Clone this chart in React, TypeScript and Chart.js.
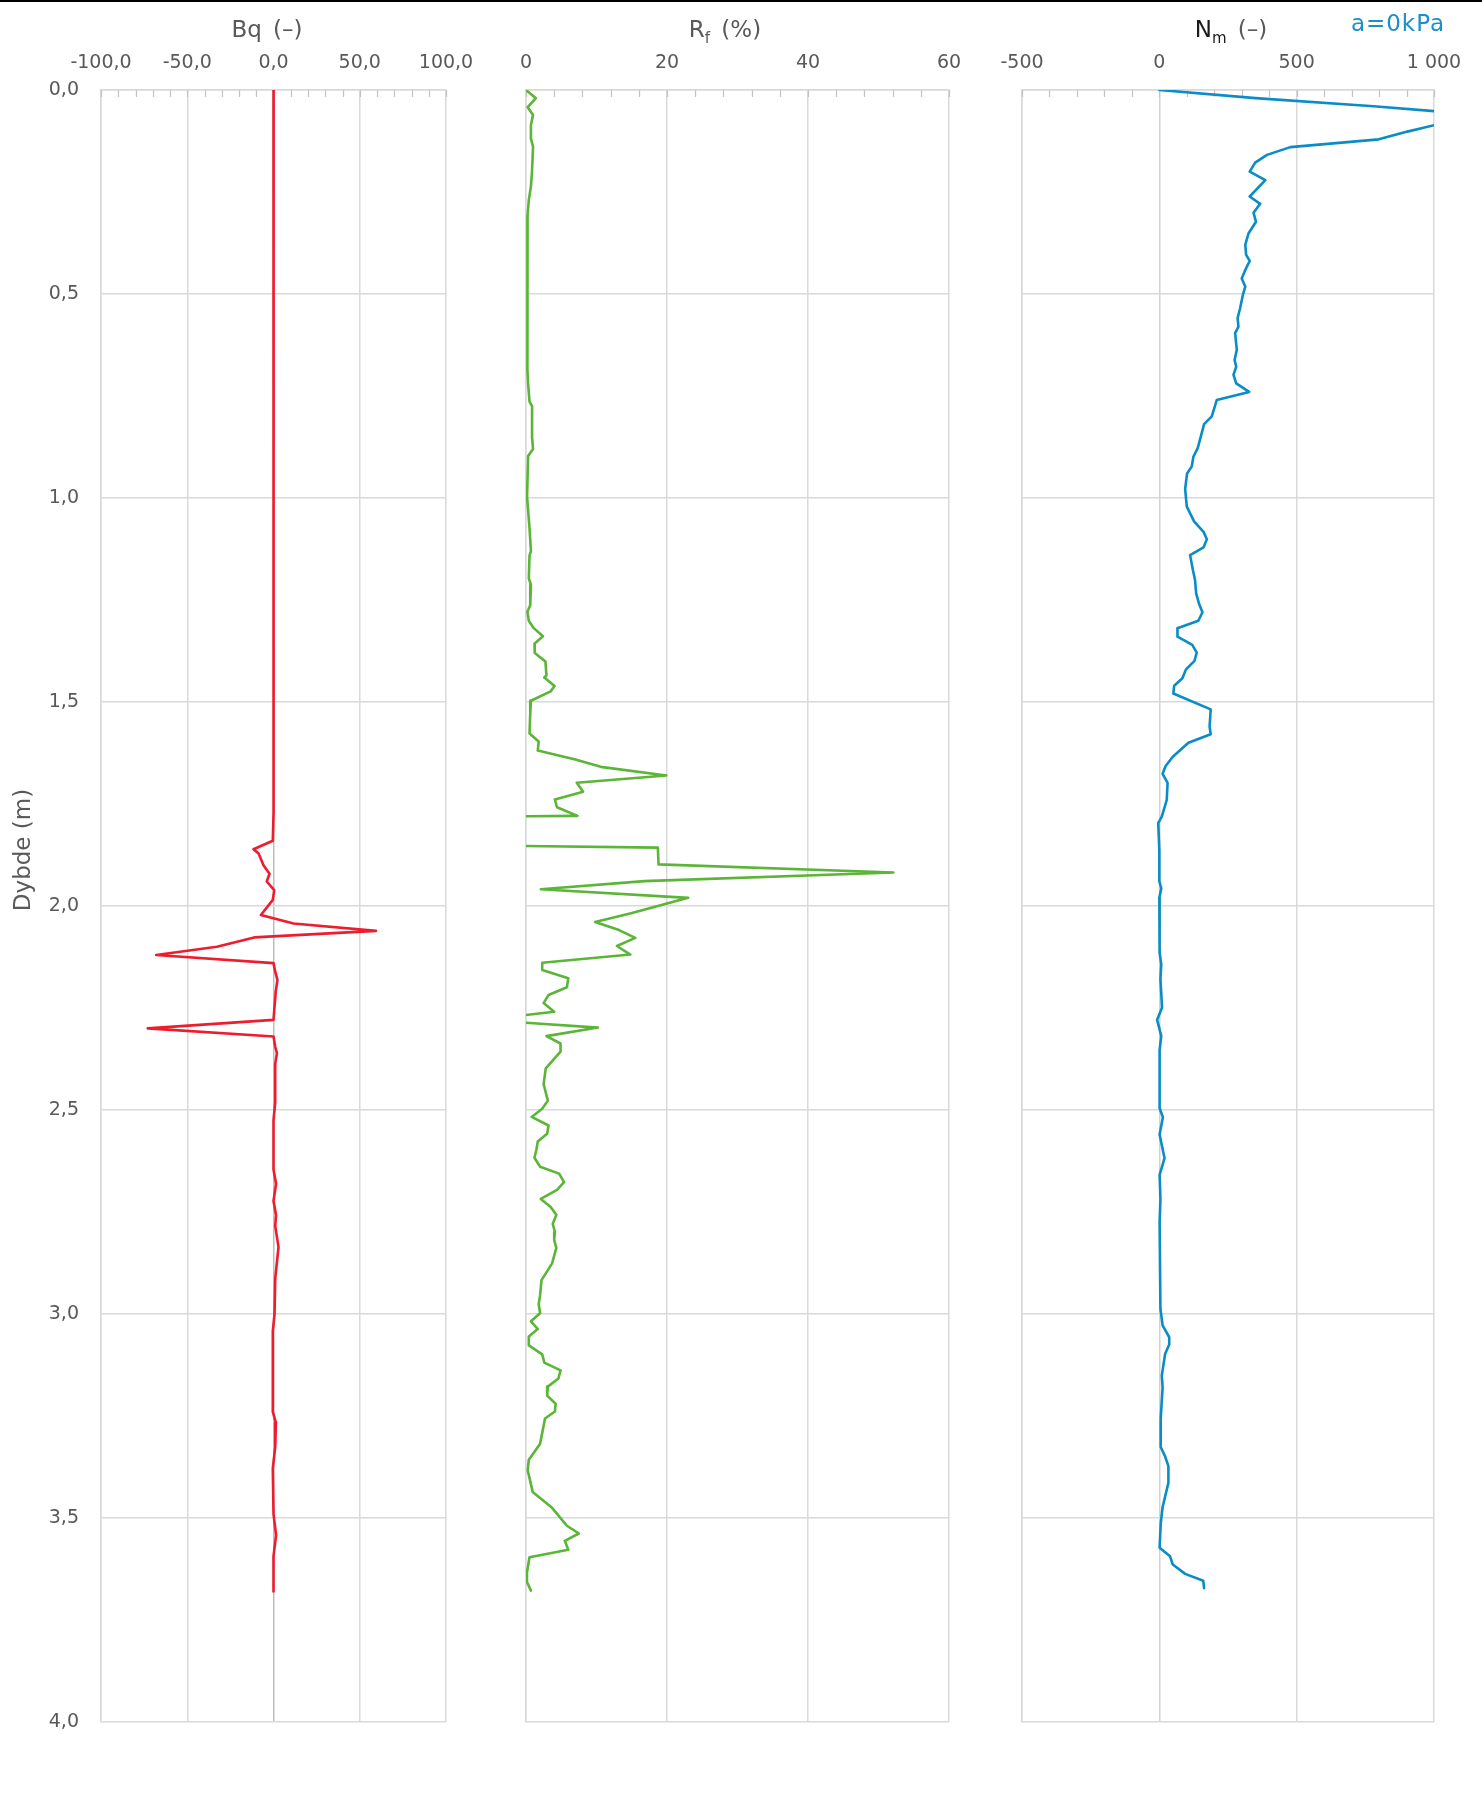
import React, { useEffect, useRef } from 'react';
import { Chart, registerables } from 'chart.js';

Chart.register(...registerables);

// ---------- data ----------
const depthTicks = [0, 0.5, 1, 1.5, 2, 2.5, 3, 3.5, 4];
const bqTicks = [-100, -50, 0, 50, 100];
const rfTicks = [0, 20, 40, 60];
const nmTicks = [-500, 0, 500, 1000];

const bqDepth = [0, 0.5, 1.0, 1.5, 1.74, 1.77, 1.84, 1.861, 1.871, 1.9, 1.921, 1.94, 1.961, 1.985, 2.022, 2.043, 2.061, 2.077, 2.1, 2.12, 2.14, 2.161, 2.181, 2.21, 2.279, 2.3, 2.32, 2.345, 2.361, 2.387, 2.482, 2.525, 2.646, 2.681, 2.723, 2.758, 2.784, 2.836, 2.913, 3.0, 3.042, 3.24, 3.266, 3.326, 3.378, 3.49, 3.542, 3.594, 3.68];
const bqValues = [0, 0, 0, 0, 0, 0.2, -0.4, -11.6, -8.7, -5.8, -2.3, -3.9, 0.4, -0.4, -7.3, 11.6, 59.4, -11.2, -32.8, -68, 0, 1, 2.3, 1.3, 0, -72.9, 0, 1, 2, 1, 1, 0, 0, 1.5, 0, 1.5, 1, 2.9, 1, 0.6, -0.4, -0.4, 1.4, 1, -0.4, 0, 1.5, 0, 0];

const rfDepth = [0, 0.02, 0.042, 0.061, 0.086, 0.119, 0.139, 0.197, 0.236, 0.27, 0.308, 0.42, 0.686, 0.72, 0.764, 0.775, 0.852, 0.88, 0.897, 0.997, 1.074, 1.13, 1.141, 1.197, 1.213, 1.263, 1.279, 1.301, 1.319, 1.339, 1.357, 1.38, 1.401, 1.435, 1.44, 1.461, 1.474, 1.497, 1.529, 1.577, 1.597, 1.619, 1.641, 1.659, 1.68, 1.698, 1.72, 1.739, 1.758, 1.779, 1.8, 1.837, 1.857, 1.898, 1.918, 1.939, 1.959, 1.98, 2.018, 2.039, 2.059, 2.078, 2.098, 2.119, 2.139, 2.157, 2.177, 2.199, 2.218, 2.238, 2.259, 2.279, 2.298, 2.319, 2.337, 2.357, 2.398, 2.437, 2.477, 2.497, 2.517, 2.538, 2.558, 2.577, 2.595, 2.617, 2.639, 2.656, 2.677, 2.696, 2.718, 2.738, 2.757, 2.779, 2.799, 2.819, 2.838, 2.876, 2.917, 2.954, 2.976, 2.998, 3.018, 3.037, 3.055, 3.077, 3.099, 3.119, 3.138, 3.158, 3.178, 3.2, 3.22, 3.239, 3.256, 3.318, 3.357, 3.383, 3.436, 3.475, 3.519, 3.538, 3.556, 3.578, 3.596, 3.633, 3.657, 3.678];
const rfValues = [0, 1.4, 0.24, 1.0, 0.7, 0.7, 1.0, 0.86, 0.7, 0.4, 0.22, 0.2, 0.2, 0.3, 0.5, 0.86, 0.86, 1.0, 0.3, 0.15, 0.5, 0.7, 0.5, 0.4, 0.7, 0.6, 0.2, 0.4, 1.1, 2.4, 1.2, 1.24, 2.76, 2.9, 2.6, 4.05, 3.5, 0.7, 0.6, 0.5, 1.8, 1.67, 7.0, 10.6, 19.9, 7.2, 8.1, 4.1, 4.4, 7.3, -175, -75, 18.7, 18.8, 52.1, 16.8, 2.1, 23.0, 14.9, 9.8, 13.2, 15.5, 12.9, 14.8, 2.3, 2.3, 6.0, 5.8, 3.2, 2.5, 4.0, -6, 10.2, 2.9, 4.9, 4.9, 2.8, 2.5, 3.1, 2.3, 0.8, 3.2, 3.0, 1.67, 1.5, 1.2, 2.0, 4.7, 5.4, 4.4, 2.1, 3.5, 4.3, 3.8, 4.1, 4.0, 4.3, 3.7, 2.2, 2.0, 1.8, 2.0, 0.7, 1.67, 0.4, 0.4, 2.3, 2.6, 4.9, 4.6, 3.1, 3.0, 4.2, 4.1, 2.7, 2.0, 0.4, 0.24, 0.95, 3.7, 5.8, 7.5, 5.5, 6.0, 0.5, 0.14, 0.14, 0.7];

const nmDepth = [0, 0.02, 0.04, 0.06, 0.08, 0.102, 0.121, 0.14, 0.159, 0.178, 0.2, 0.221, 0.261, 0.279, 0.301, 0.323, 0.351, 0.379, 0.404, 0.419, 0.441, 0.462, 0.482, 0.503, 0.535, 0.559, 0.58, 0.596, 0.637, 0.662, 0.678, 0.698, 0.719, 0.74, 0.76, 0.8, 0.819, 0.877, 0.899, 0.923, 0.94, 0.978, 1.021, 1.058, 1.083, 1.101, 1.121, 1.14, 1.176, 1.201, 1.234, 1.26, 1.28, 1.301, 1.319, 1.34, 1.36, 1.379, 1.399, 1.42, 1.442, 1.46, 1.479, 1.518, 1.56, 1.579, 1.6, 1.634, 1.657, 1.676, 1.698, 1.74, 1.781, 1.797, 1.863, 1.939, 1.957, 1.98, 2.114, 2.143, 2.179, 2.249, 2.279, 2.319, 2.354, 2.495, 2.518, 2.56, 2.618, 2.659, 2.718, 2.776, 2.987, 3.028, 3.057, 3.075, 3.098, 3.151, 3.18, 3.256, 3.326, 3.349, 3.373, 3.414, 3.473, 3.514, 3.573, 3.594, 3.614, 3.637, 3.654, 3.672];
const nmValues = [0, 350, 780, 1150, 1040, 903, 799, 477, 392, 349, 329, 386, 329, 367, 343, 352, 325, 313, 316, 329, 313, 300, 313, 304, 294, 285, 288, 276, 282, 274, 280, 270, 280, 327, 209, 191, 163, 140, 124, 118, 101, 94, 100, 127, 161, 173, 161, 112, 122, 130, 134, 145, 157, 142, 66, 66, 120, 136, 128, 97, 84, 54, 51, 187, 183, 187, 106, 49, 23, 12, 30, 27, 9, -4, 0, 0, 7, 0, 1, 7, 4, 10, -8, 7, 1, 1, 13, 1, 19, 1, 4, 1, 4, 12, 36, 36, 21, 9, 12, 5, 5, 21, 33, 33, 12, 5, 1, 39, 49, 94, 160, 163];

// ---------- layout / style ----------
const FONT = "'DejaVu Sans', sans-serif";
const GRID = '#d9d9d9';
const LABEL = '#595959';
const PLOT_TOP = 90;
const PLOT_BOTTOM = 1722;
const CANVAS_TOP = 40;
const PAD_R = 45;
const PAD_B = 45;

const fmtComma = (v: number) => Number(v).toFixed(1).replace('.', ',');
const fmtInt = (v: number) => String(v);
const fmtThousands = (v: number) => {
  const s = String(Math.abs(v));
  const t = s.replace(/\B(?=(\d{3})+(?!\d))/g, ' ');
  return (v < 0 ? '-' : '') + t;
};

type Panel = {
  plotLeft: number;
  plotRight: number;
  padL: number;
  yLabels: boolean;
  min: number;
  max: number;
  ticks: number[];
  minor: number;
  fmt: (v: number) => string;
  depth: number[];
  values: number[];
  color: string;
  zero: string;
};

const panels: Panel[] = [
  { plotLeft: 101, plotRight: 446, padL: 101, yLabels: true, min: -100, max: 100, ticks: bqTicks, minor: 10, fmt: fmtComma, depth: bqDepth, values: bqValues, color: '#ED1C2E', zero: '#bdbdbd' },
  { plotLeft: 526, plotRight: 949, padL: 60, yLabels: false, min: 0, max: 60, ticks: rfTicks, minor: 4, fmt: fmtInt, depth: rfDepth, values: rfValues, color: '#5BB536', zero: GRID },
  { plotLeft: 1022, plotRight: 1434, padL: 60, yLabels: false, min: -500, max: 1000, ticks: nmTicks, minor: 100, fmt: fmtThousands, depth: nmDepth, values: nmValues, color: '#0A8DC6', zero: '#d2d2d2' },
];

function canvasSize(p: Panel) {
  return {
    w: p.padL + (p.plotRight - p.plotLeft) + PAD_R,
    h: PLOT_BOTTOM - CANVAS_TOP + PAD_B,
  };
}

export default function App() {
  const refs = [useRef<HTMLCanvasElement>(null), useRef<HTMLCanvasElement>(null), useRef<HTMLCanvasElement>(null)];

  useEffect(() => {
    const charts: Chart[] = [];
    panels.forEach((p, i) => {
      const cv = refs[i].current;
      if (!cv) return;
      const minorPlugin = {
        id: 'minorTicks' + i,
        beforeDatasetsDraw(chart: any) {
          const xs = chart.scales.x;
          const top = chart.chartArea.top;
          const ctx = chart.ctx;
          ctx.save();
          ctx.strokeStyle = '#c4c4c4';
          ctx.lineWidth = 1.25;
          for (let v = p.min; v <= p.max + 1e-9; v += p.minor) {
            const px = Math.round(xs.getPixelForValue(v)) + 0.5;
            ctx.beginPath();
            ctx.moveTo(px, top);
            ctx.lineTo(px, top + 7);
            ctx.stroke();
          }
          ctx.restore();
        },
      };
      const chart = new Chart(cv, {
        type: 'scatter',
        data: {
          datasets: [
            {
              data: p.depth.map((d, k) => ({ x: p.values[k], y: d })),
              showLine: true,
              borderColor: p.color,
              backgroundColor: p.color,
              borderWidth: 2.6,
              borderJoinStyle: 'round',
              borderCapStyle: 'round',
              pointRadius: 0,
              pointHoverRadius: 0,
              tension: 0,
              fill: false,
            } as any,
          ],
        },
        options: {
          animation: false,
          responsive: false,
          maintainAspectRatio: false,
          devicePixelRatio: 1,
          events: [],
          layout: { padding: { left: p.yLabels ? 0 : p.padL, right: PAD_R, top: 0, bottom: PAD_B } },
          plugins: { legend: { display: false }, tooltip: { enabled: false }, title: { display: false } },
          scales: {
            x: {
              type: 'linear',
              position: 'top',
              min: p.min,
              max: p.max,
              afterBuildTicks: (s: any) => {
                s.ticks = p.ticks.map((v) => ({ value: v }));
              },
              afterFit: (s: any) => {
                s.height = PLOT_TOP - CANVAS_TOP;
              },
              ticks: {
                font: { family: FONT, size: 19 },
                color: LABEL,
                padding: 16,
                maxRotation: 0,
                autoSkip: false,
                callback: (v: any) => p.fmt(Number(v)),
              },
              grid: {
                drawTicks: false,
                lineWidth: 1.5,
                color: (ctx: any) => (ctx.tick && ctx.tick.value === 0 ? p.zero : GRID),
              },
              border: { display: true, color: GRID, width: 1.5 },
            },
            y: {
              type: 'linear',
              reverse: true,
              min: 0,
              max: 4,
              afterBuildTicks: (s: any) => {
                s.ticks = depthTicks.map((v) => ({ value: v }));
              },
              afterFit: (s: any) => {
                s.width = p.yLabels ? p.padL : 0;
              },
              ticks: {
                display: p.yLabels,
                font: { family: FONT, size: 19 },
                color: LABEL,
                padding: 22,
                autoSkip: false,
                callback: (v: any) => fmtComma(Number(v)),
              },
              grid: { drawTicks: false, lineWidth: 1.5, color: GRID },
              border: { display: true, color: GRID, width: 1.5 },
            },
          },
        } as any,
        plugins: [minorPlugin],
      });
      charts.push(chart);
    });
    return () => charts.forEach((c) => c.destroy());
  }, []);

  const titleBase: React.CSSProperties = {
    position: 'absolute',
    top: 18,
    width: 240,
    textAlign: 'center',
    fontFamily: FONT,
    fontSize: 23,
    lineHeight: '23px',
    color: LABEL,
    whiteSpace: 'nowrap',
    wordSpacing: 4,
  };
  const sub: React.CSSProperties = { fontSize: 15, verticalAlign: -6, lineHeight: 0 };

  return (
    <div style={{ position: 'absolute', left: 0, top: 0, width: 1482, height: 1806, background: '#fff', overflow: 'hidden' }}>
      <div style={{ position: 'absolute', left: 0, top: 0, width: 1482, height: 2, background: '#000' }} />
      {panels.map((p, i) => {
        const { w, h } = canvasSize(p);
        return (
          <canvas
            key={i}
            ref={refs[i]}
            width={w}
            height={h}
            style={{ position: 'absolute', left: p.plotLeft - p.padL, top: CANVAS_TOP, width: w, height: h }}
          />
        );
      })}
      <div style={{ ...titleBase, left: 267 - 120 }}>Bq (–)</div>
      <div style={{ ...titleBase, left: 725 - 120 }}>
        R<span style={sub}>f</span> (%)
      </div>
      <div style={{ ...titleBase, left: 1231 - 120 }}>
        <span style={{ color: '#1a1a1a' }}>
          N<span style={sub}>m</span>
        </span>{' '}
        (–)
      </div>
      <div style={{ ...titleBase, left: 1398 - 120, top: 12, color: '#1A8FC9', wordSpacing: 0, letterSpacing: 1 }}>a=0kPa</div>
      <div
        style={{
          position: 'absolute',
          left: 22 - 100,
          top: 850 - 15,
          width: 200,
          height: 30,
          lineHeight: '30px',
          textAlign: 'center',
          fontFamily: FONT,
          fontSize: 23,
          color: LABEL,
          transform: 'rotate(-90deg)',
          whiteSpace: 'nowrap',
        }}
      >
        Dybde (m)
      </div>
    </div>
  );
}
